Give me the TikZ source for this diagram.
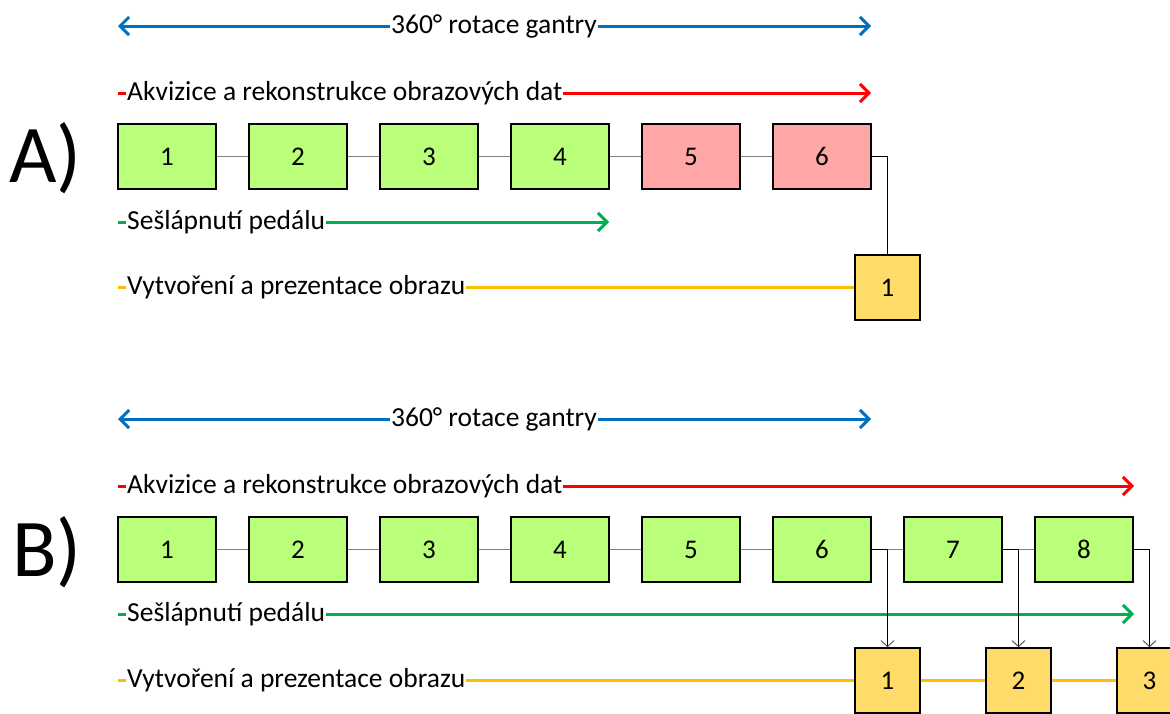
\documentclass[tikz,border=0pt]{standalone}
\usepackage{fontspec}
\setmainfont{Carlito}
\usetikzlibrary{arrows.meta}
\definecolor{rotblue}{HTML}{0070C0}
\definecolor{acqred}{HTML}{FF0000}
\definecolor{pedgreen}{HTML}{00B050}
\definecolor{imgorange}{HTML}{FFC000}
\definecolor{boxgreen}{HTML}{B9FF79}
\definecolor{boxred}{HTML}{FFA6A6}
\definecolor{boxyellow}{HTML}{FFDC6A}
\definecolor{linkgray}{HTML}{808080}
\tikzset{
  lbl/.style={font=\fontsize{27.5}{30}\selectfont, fill=white, inner sep=1pt},
  phase/.style={line width=3pt, -{Straight Barb[length=9pt,width=18pt]}},
  phaseboth/.style={line width=3pt, {Straight Barb[length=9pt,width=18pt]}-{Straight Barb[length=9pt,width=18pt]}},
  stepbox/.style={draw=black, line width=1.6pt, minimum width=98pt, minimum height=65pt, inner sep=0pt, font=\fontsize{27}{30}\selectfont},
  greenbox/.style={stepbox, fill=boxgreen},
  redbox/.style={stepbox, fill=boxred},
  imgbox/.style={stepbox, fill=boxyellow, minimum width=65pt},
  link/.style={draw=linkgray, line width=1.2pt},
  feed/.style={draw=black, line width=0.9pt, -{Straight Barb[length=6pt,width=13pt,color=black!70]}},
  panel/.style={font=\fontsize{82}{82}\selectfont, inner sep=0pt, anchor=base west}
}
\begin{document}
\begin{tikzpicture}[x=1pt,y=-1pt]
\path[use as bounding box] (0,0) rectangle (1170,713);
\clip (0,0) rectangle (1170,713);

% ---------- panel A ----------
\node[panel] (pa) at (9,182) {A)};

\coordinate (ab0) at (118,26);  \coordinate (ab1) at (871,26);
\coordinate (ar0) at (118,93);  \coordinate (ar1) at (871,93);
\coordinate (ag0) at (118,222); \coordinate (ag1) at (609,222);
\coordinate (ay0) at (118,287.5);

\foreach \i in {1,...,4}
  \node[greenbox] (a\i) at ({167+131*(\i-1)},156.5) {\i};
\foreach \i in {5,6}
  \node[redbox] (a\i) at ({167+131*(\i-1)},156.5) {\i};
\node[imgbox] (ay1) at (887.5,287.5) {1};

\foreach \i/\j in {1/2,2/3,3/4,4/5,5/6}
  \draw[link] (a\i.east) -- (a\j.west);
\draw[draw=black, line width=0.9pt] (a6.east) -| (ay1.north);

\draw[phaseboth, rotblue] (ab0) -- (ab1);
\node[lbl] (abt) at (494,26) {360° rotace gantry};
\draw[phase, acqred] (ar0) -- (ar1);
\node[lbl, anchor=west] (art) at (126,93) {Akvizice a rekonstrukce obrazových dat};
\draw[phase, pedgreen] (ag0) -- (ag1);
\node[lbl, anchor=west] (agt) at (126,222) {Sešlápnutí pedálu};
\draw[line width=3pt, imgorange] (ay0) -- (ay1.west);
\node[lbl, anchor=west] (ayt) at (126,287.5) {Vytvoření a prezentace obrazu};

% ---------- panel B ----------
\node[panel] (pb) at (12,576) {B)};

\coordinate (bb0) at (118,419); \coordinate (bb1) at (871,419);
\coordinate (br0) at (118,486); \coordinate (br1) at (1134,486);
\coordinate (bg0) at (118,614); \coordinate (bg1) at (1134,614);
\coordinate (by0) at (118,680.5);

\draw[line width=3pt, imgorange] (by0) -- (1150,680.5);
\foreach \i in {1,...,8}
  \node[greenbox] (b\i) at ({167+131*(\i-1)},549.5) {\i};
\foreach \i in {1,2,3}
  \node[imgbox] (by\i) at ({887.5+131*(\i-1)},680.5) {\i};

\foreach \i/\j in {1/2,2/3,3/4,4/5,5/6,6/7,7/8}
  \draw[link] (b\i.east) -- (b\j.west);
\draw[link] (b8.east) -- ++(16,0);

\draw[phaseboth, rotblue] (bb0) -- (bb1);
\node[lbl] (bbt) at (494,419) {360° rotace gantry};
\draw[phase, acqred] (br0) -- (br1);
\node[lbl, anchor=west] (brt) at (126,486) {Akvizice a rekonstrukce obrazových dat};
\draw[phase, pedgreen] (bg0) -- (bg1);
\node[lbl, anchor=west] (bgt) at (126,614) {Sešlápnutí pedálu};
\node[lbl, anchor=west] (byt) at (126,680.5) {Vytvoření a prezentace obrazu};

\draw[feed] (b6.east) -| (by1.north);
\draw[feed] (b7.east) -| (by2.north);
\draw[feed] (b8.east) -| (by3.north);
\end{tikzpicture}
\end{document}
